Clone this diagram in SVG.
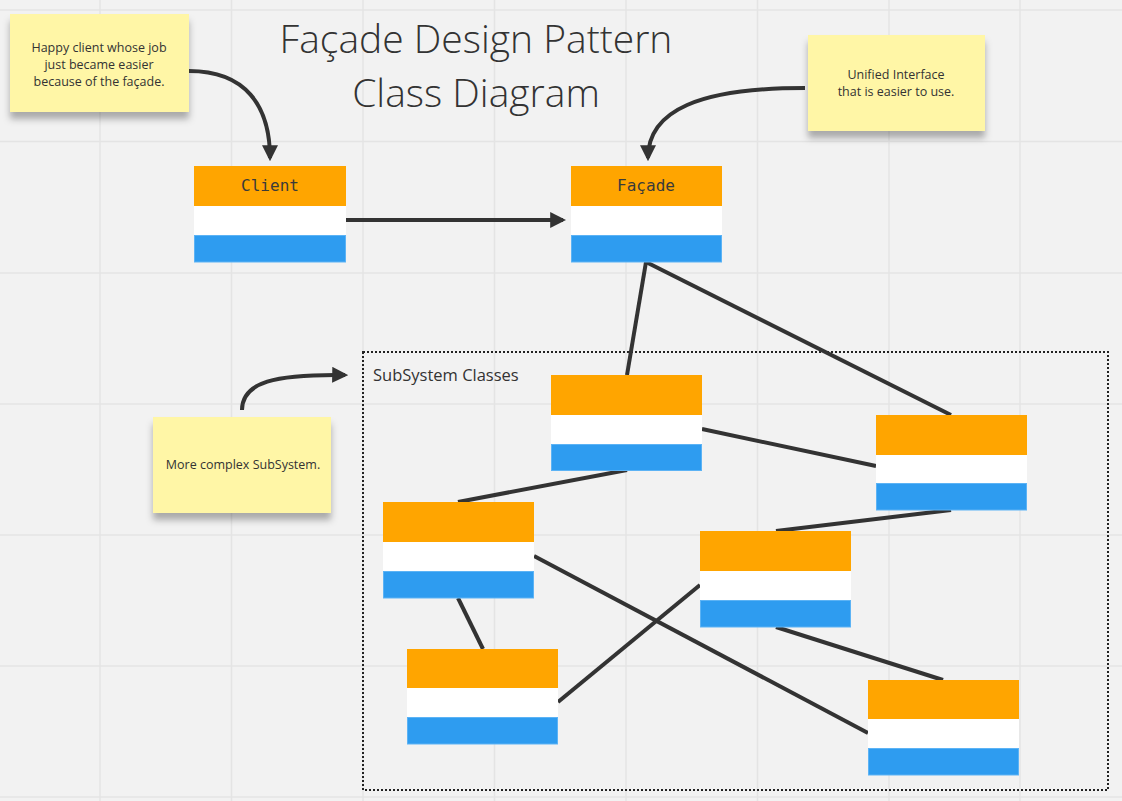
<svg xmlns="http://www.w3.org/2000/svg" width="1122" height="801" viewBox="0 0 1122 801">
<style>
.grid{stroke:#e4e4e4;stroke-width:1.5}
.hd{fill:#ffa500}
.bd{fill:#ffffff}
.ft{fill:#2e9cf0;stroke:#5cb3f5;stroke-width:1}
.note{fill:#fff6a6}
.nt{font-family:"Open Sans","Noto Sans",sans-serif;font-size:12.5px;fill:#333;text-anchor:middle}
.cn{font-family:"DejaVu Sans Mono","Liberation Mono",monospace;font-size:16px;fill:#3a3a3a;text-anchor:middle}
.ln{stroke:#333;stroke-width:4;fill:none;stroke-linecap:butt}
.title{font-family:"Open Sans","Noto Sans",sans-serif;font-weight:300;font-size:39px;fill:#333;text-anchor:middle}
</style>
<defs>
<marker id="ah" viewBox="0 0 10 10" refX="8" refY="5" markerWidth="4" markerHeight="4" orient="auto" markerUnits="strokeWidth">
<path d="M0,0 L10,5 L0,10 z" fill="#333"/>
</marker>
<filter id="sh" x="-10%" y="-10%" width="120%" height="140%">
<feDropShadow dx="0" dy="7" stdDeviation="3.5" flood-color="#000" flood-opacity="0.3"/>
</filter>
</defs>
<rect x="0" y="0" width="1122" height="801" fill="#f2f2f2"/>
<g id="grid">
<line class="grid" x1="100" y1="0" x2="100" y2="801"/>
<line class="grid" x1="231.5" y1="0" x2="231.5" y2="801"/>
<line class="grid" x1="363" y1="0" x2="363" y2="801"/>
<line class="grid" x1="494.5" y1="0" x2="494.5" y2="801"/>
<line class="grid" x1="626" y1="0" x2="626" y2="801"/>
<line class="grid" x1="757.5" y1="0" x2="757.5" y2="801"/>
<line class="grid" x1="889" y1="0" x2="889" y2="801"/>
<line class="grid" x1="1020" y1="0" x2="1020" y2="801"/>
<line class="grid" x1="0" y1="10" x2="1122" y2="10"/>
<line class="grid" x1="0" y1="141.5" x2="1122" y2="141.5"/>
<line class="grid" x1="0" y1="273" x2="1122" y2="273"/>
<line class="grid" x1="0" y1="404" x2="1122" y2="404"/>
<line class="grid" x1="0" y1="535" x2="1122" y2="535"/>
<line class="grid" x1="0" y1="666" x2="1122" y2="666"/>
<line class="grid" x1="0" y1="797" x2="1122" y2="797"/>
</g>
<g id="title">
<text class="title" x="476" y="53">Façade Design Pattern</text>
<text class="title" x="476" y="107">Class Diagram</text>
</g>
<g id="subsystem">
<rect x="363" y="352" width="745" height="438" fill="none" stroke="#222" stroke-width="2" stroke-dasharray="2 2"/>
<text x="373" y="381" font-family="Open Sans,Noto Sans,sans-serif" font-size="16.5" fill="#333">SubSystem Classes</text>
</g>
<g id="note1">
<rect class="note" x="10" y="14" width="179" height="98" filter="url(#sh)"/>
<text class="nt" x="99" y="52">Happy client whose job</text>
<text class="nt" x="99" y="69">just became easier</text>
<text class="nt" x="99" y="86">because of the façade.</text>
</g>
<g id="note2">
<rect class="note" x="808" y="35" width="177" height="96" filter="url(#sh)"/>
<text class="nt" x="896" y="79">Unified Interface</text>
<text class="nt" x="896" y="96">that is easier to use.</text>
</g>
<g id="note3">
<rect class="note" x="153" y="417" width="178" height="96" filter="url(#sh)"/>
<text class="nt" x="243" y="469">More complex SubSystem.</text>
</g>
<g id="connectors">
<path class="ln" d="M189,71 C245,71 270,105 270,158" marker-end="url(#ah)"/>
<path class="ln" d="M805,88 C700,88 648,110 648,158" marker-end="url(#ah)"/>
<path class="ln" d="M242,410 C242,382 275,374 345,375" marker-end="url(#ah)"/>
<path class="ln" d="M346,220 L563,220" marker-end="url(#ah)"/>
<path class="ln" d="M646,262 L627,375"/>
<path class="ln" d="M646,262 L951,415"/>
<path class="ln" d="M702,429 L876,466"/>
<path class="ln" d="M627,470 L458,502"/>
<path class="ln" d="M951,510 L776,531"/>
<path class="ln" d="M534,556 L868,733"/>
<path class="ln" d="M458,598 L483,649"/>
<path class="ln" d="M700,585 L558,702"/>
<path class="ln" d="M776,627 L943,680"/>
</g>
<g id="client">
<rect class="hd" x="194" y="166" width="152" height="40"/>
<rect class="bd" x="194" y="206" width="152" height="29"/>
<rect class="ft" x="194.5" y="235.5" width="151" height="26.5"/>
<text class="cn" x="270" y="191">Client</text>
</g>
<g id="facade">
<rect class="hd" x="571" y="166" width="151" height="40"/>
<rect class="bd" x="571" y="206" width="151" height="29"/>
<rect class="ft" x="571.5" y="235.5" width="150" height="26.5"/>
<text class="cn" x="646" y="191">Façade</text>
</g>
<g id="sub1">
<rect class="hd" x="551" y="375" width="151" height="40"/>
<rect class="bd" x="551" y="415" width="151" height="29"/>
<rect class="ft" x="551.5" y="444.5" width="150" height="26"/>
</g>
<g id="sub2">
<rect class="hd" x="876" y="415" width="151" height="40"/>
<rect class="bd" x="876" y="455" width="151" height="28"/>
<rect class="ft" x="876.5" y="483.5" width="150" height="26.5"/>
</g>
<g id="sub3">
<rect class="hd" x="383" y="502" width="151" height="40"/>
<rect class="bd" x="383" y="542" width="151" height="29"/>
<rect class="ft" x="383.5" y="571.5" width="150" height="26.5"/>
</g>
<g id="sub4">
<rect class="hd" x="700" y="531" width="151" height="40"/>
<rect class="bd" x="700" y="571" width="151" height="29"/>
<rect class="ft" x="700.5" y="600.5" width="150" height="26.5"/>
</g>
<g id="sub5">
<rect class="hd" x="407" y="649" width="151" height="39"/>
<rect class="bd" x="407" y="688" width="151" height="29"/>
<rect class="ft" x="407.5" y="717.5" width="150" height="26.5"/>
</g>
<g id="sub6">
<rect class="hd" x="868" y="680" width="151" height="39"/>
<rect class="bd" x="868" y="719" width="151" height="29"/>
<rect class="ft" x="868.5" y="748.5" width="150" height="26.5"/>
</g>
</svg>
